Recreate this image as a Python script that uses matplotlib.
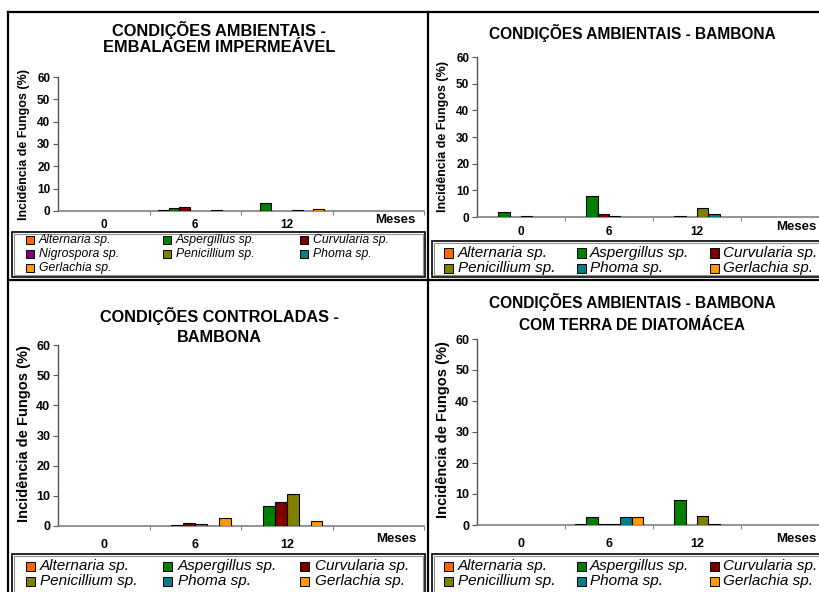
import matplotlib
matplotlib.use("Agg")
import matplotlib.pyplot as plt
from matplotlib.patches import Rectangle
from matplotlib.lines import Line2D
import numpy as np

plt.rcParams['font.family'] = ['Liberation Sans', 'DejaVu Sans']

W, H = 819, 592

# ---------------- data ----------------
categories = ['0', '6', '12']

series7 = ['Alternaria sp.', 'Aspergillus sp.', 'Curvularia sp.', 'Nigrospora sp.',
           'Penicillium sp.', 'Phoma sp.', 'Gerlachia sp.']
series6 = ['Alternaria sp.', 'Aspergillus sp.', 'Curvularia sp.',
           'Penicillium sp.', 'Phoma sp.', 'Gerlachia sp.']

colors = {
    'Alternaria sp.': '#FF6600',
    'Aspergillus sp.': '#008000',
    'Curvularia sp.': '#800000',
    'Nigrospora sp.': '#800080',
    'Penicillium sp.': '#808000',
    'Phoma sp.': '#008080',
    'Gerlachia sp.': '#FF9900',
}

# Panel 1: condições ambientais - embalagem impermeável
p1_alternaria = [0, 0.3, 0]
p1_aspergillus = [0, 1.5, 3.5]
p1_curvularia = [0, 2.0, 0]
p1_nigrospora = [0, 0, 0]
p1_penicillium = [0, 0, 0.3]
p1_phoma = [0, 0.3, 0]
p1_gerlachia = [0, 0, 1.0]

# Panel 2: condições ambientais - bambona
p2_alternaria = [0, 0, 0]
p2_aspergillus = [2.0, 7.8, 0.5]
p2_curvularia = [0, 1.2, 0]
p2_penicillium = [0.5, 0.5, 3.2]
p2_phoma = [0, 0, 1.2]
p2_gerlachia = [0, 0, 0]

# Panel 3: condições controladas - bambona
p3_alternaria = [0, 0, 0]
p3_aspergillus = [0, 0.4, 6.5]
p3_curvularia = [0, 1.0, 8.0]
p3_penicillium = [0, 0.5, 10.5]
p3_phoma = [0, 0, 0]
p3_gerlachia = [0, 2.5, 1.5]

# Panel 4: condições ambientais - bambona com terra de diatomácea
p4_alternaria = [0, 0.4, 0]
p4_aspergillus = [0, 2.5, 8.0]
p4_curvularia = [0, 0.4, 0]
p4_penicillium = [0, 0.4, 3.0]
p4_phoma = [0, 2.5, 0.4]
p4_gerlachia = [0, 2.5, 0]

yticks = [0, 10, 20, 30, 40, 50, 60]

panels = [
    dict(title=['CONDIÇÕES AMBIENTAIS -', 'EMBALAGEM IMPERMEÁVEL'], title_fs=11.8,
         names=series7,
         values=[p1_alternaria, p1_aspergillus, p1_curvularia, p1_nigrospora,
                 p1_penicillium, p1_phoma, p1_gerlachia],
         ax=(58, 77, 424, 211), title_xy=(219, [30, 48]), ylab=(24, 145, 9),
         tick_fs=8.5, xlab_y=225, meses=(395, 220),
         leg_box=(12, 232, 425, 277), leg_rows=[240, 253.8, 267.6],
         leg_cols=[30, 167, 304], leg_text=[39, 176, 313], leg_fs=8.8,
         leg_order=[[0, 1, 2], [3, 4, 5], [6]]),
    dict(title=['CONDIÇÕES AMBIENTAIS - BAMBONA'], title_fs=11.2,
         names=series6,
         values=[p2_alternaria, p2_aspergillus, p2_curvularia,
                 p2_penicillium, p2_phoma, p2_gerlachia],
         ax=(477, 57, 829, 217), title_xy=(632, [33]), ylab=(443, 137, 9),
         tick_fs=8.5, xlab_y=232, meses=(796, 227),
         leg_box=(432, 241, 830, 277), leg_rows=[253, 268],
         leg_cols=[449, 581, 714], leg_text=[458, 590, 723], leg_fs=11,
         leg_order=[[0, 1, 2], [3, 4, 5]]),
    dict(title=['CONDIÇÕES CONTROLADAS -', 'BAMBONA'], title_fs=11.7,
         names=series6,
         values=[p3_alternaria, p3_aspergillus, p3_curvularia,
                 p3_penicillium, p3_phoma, p3_gerlachia],
         ax=(58, 345, 424, 526), title_xy=(219, [316, 337]), ylab=(24, 434, 10.5),
         tick_fs=9, xlab_y=545, meses=(396, 539),
         leg_box=(12, 554, 425, 600), leg_rows=[566, 581],
         leg_cols=[30, 167, 304], leg_text=[40, 178, 315], leg_fs=11,
         leg_order=[[0, 1, 2], [3, 4, 5]]),
    dict(title=['CONDIÇÕES AMBIENTAIS - BAMBONA', 'COM TERRA DE DIATOMÁCEA'],
         title_fs=11.2,
         names=series6,
         values=[p4_alternaria, p4_aspergillus, p4_curvularia,
                 p4_penicillium, p4_phoma, p4_gerlachia],
         ax=(477, 339, 829, 525), title_xy=(632, [302, 325]), ylab=(443, 430, 10.5),
         tick_fs=9, xlab_y=544, meses=(796, 539),
         leg_box=(432, 554, 830, 600), leg_rows=[566, 581],
         leg_cols=[449, 581, 714], leg_text=[458, 590, 723], leg_fs=11,
         leg_order=[[0, 1, 2], [3, 4, 5]]),
]

fig = plt.figure(figsize=(W / 100, H / 100), dpi=100)
fig.patch.set_facecolor('white')


def fx(x):
    return x / W


def fy(y):
    return 1 - y / H


axis_col = '#808080'
gapw = 1.7

for p in panels:
    x0, yt, x1, yb = p['ax']
    ax = fig.add_axes([fx(x0), fy(yb), (x1 - x0) / W, (yb - yt) / H])
    ax.set_facecolor('none')
    n = len(p['names'])
    w = 1.0 / (n + gapw)
    g = gapw * w / 2
    xc = np.arange(len(categories))
    for i, (name, vals) in enumerate(zip(p['names'], p['values'])):
        vals = np.asarray(vals, dtype=float)
        mask = vals > 0
        ax.bar(xc[mask] + g + i * w, vals[mask], width=w, align='edge',
               color=colors[name], edgecolor='black', linewidth=0.8, zorder=3)
    ax.set_xlim(0, 4)
    ax.set_ylim(0, 60)
    for s in ['top', 'right']:
        ax.spines[s].set_visible(False)
    ax.spines['left'].set_color('#555555')
    ax.spines['bottom'].set_color(axis_col)
    ax.spines['left'].set_linewidth(1.0)
    ax.spines['bottom'].set_linewidth(1.2)
    ax.set_yticks(yticks)
    ax.set_yticklabels([str(t) for t in yticks], fontsize=p['tick_fs'],
                       fontweight='bold')
    ax.tick_params(axis='y', direction='out', length=3.5, width=0.8,
                   color='#555555', pad=2)
    ax.set_xticks([1, 2, 3, 4])
    ax.set_xticklabels([])
    ax.tick_params(axis='x', direction='out', length=3, width=0.8, color=axis_col)
    # category labels
    for k, c in enumerate(categories):
        fig.text(fx(x0 + (x1 - x0) / 4 * (k + 0.5)), fy(p['xlab_y']), c,
                 ha='center', va='center', fontsize=p['tick_fs'], fontweight='bold')
    fig.text(fx(p['meses'][0]), fy(p['meses'][1]), 'Meses', ha='center', va='center',
             fontsize=9.5, fontweight='bold')
    # titles
    tx, tys = p['title_xy']
    for line, ty in zip(p['title'], tys):
        fig.text(fx(tx), fy(ty), line, ha='center', va='center',
                 fontsize=p['title_fs'], fontweight='bold')
    # y label
    lx, ly, lfs = p['ylab']
    fig.text(fx(lx), fy(ly), 'Incidência de Fungos (%)', rotation=90, ha='center',
             va='center', fontsize=lfs, fontweight='bold')
    # legend box
    bx0, by0, bx1, by1 = p['leg_box']
    fig.patches.append(Rectangle((fx(bx0), fy(by1)), (bx1 - bx0) / W, (by1 - by0) / H,
                                 transform=fig.transFigure, facecolor='white',
                                 edgecolor='black', linewidth=1.2, zorder=1))
    fig.patches.append(Rectangle((fx(bx0 + 2), fy(by1 - 2)), (bx1 - bx0 - 4) / W,
                                 (by1 - by0 - 4) / H,
                                 transform=fig.transFigure, facecolor='none',
                                 edgecolor='#909090', linewidth=0.8, zorder=1))
    msz = 9 if p['leg_fs'] >= 10 else 8
    for r, row in enumerate(p['leg_order']):
        for c, idx in enumerate(row):
            name = p['names'][idx]
            mx = p['leg_cols'][c]
            my = p['leg_rows'][r]
            fig.patches.append(Rectangle((fx(mx - msz / 2), fy(my + msz / 2)),
                                         msz / W, msz / H,
                                         transform=fig.transFigure,
                                         facecolor=colors[name], edgecolor='black',
                                         linewidth=0.7, zorder=2))
            fig.text(fx(p['leg_text'][c]), fy(my), name, ha='left', va='center',
                     fontsize=p['leg_fs'], fontstyle='italic', zorder=3)

# outer frame lines
lines = [
    ((8, 819), (12, 12)),
    ((8, 8), (12, 592)),
    ((428, 428), (12, 592)),
    ((8, 819), (280, 280)),
]
for xs, ys in lines:
    fig.lines.append(Line2D([fx(xs[0]), fx(xs[1])], [fy(ys[0]), fy(ys[1])],
                            transform=fig.transFigure, color='black', linewidth=1.6,
                            zorder=5))

fig.savefig('out.png', dpi=100, facecolor='white')
